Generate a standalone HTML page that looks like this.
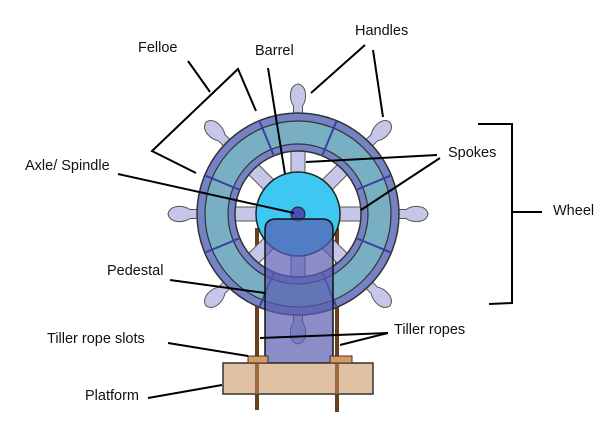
<!DOCTYPE html>
<html><head><meta charset="utf-8"><style>
html,body{margin:0;padding:0;background:#fff}
svg{display:block}
text{font-family:"Liberation Sans",Arial,sans-serif;font-size:14.5px;fill:#111}
</style></head><body>
<svg width="600" height="428" viewBox="0 0 600 428" xmlns="http://www.w3.org/2000/svg">
<defs>
<g id="handle">
  <path d="M -4.5 -98 L -4.5 -108 C -9 -114 -9.5 -128 0 -130 C 9.5 -128 9 -114 4.5 -108 L 4.5 -98 Z" fill="#c6c6e8" stroke="#555" stroke-width="1"/>
  <rect x="-7" y="-70" width="14" height="32" fill="#c6c6e8" stroke="#555" stroke-width="1"/>
</g>
</defs>
<line x1="257" y1="228" x2="257" y2="410" stroke="#6b3f1a" stroke-width="4"/>
<line x1="337" y1="228" x2="337" y2="412" stroke="#6b3f1a" stroke-width="4"/>
<g transform="translate(298,214)">
  <use href="#handle" transform="rotate(0)"/>
  <use href="#handle" transform="rotate(45)"/>
  <use href="#handle" transform="rotate(90)"/>
  <use href="#handle" transform="rotate(135)"/>
  <use href="#handle" transform="rotate(180)"/>
  <use href="#handle" transform="rotate(225)"/>
  <use href="#handle" transform="rotate(270)"/>
  <use href="#handle" transform="rotate(315)"/>
  <path d="M 0 -101 A 101 101 0 1 1 0 101 A 101 101 0 1 1 0 -101 Z M 0 -63 A 63 63 0 1 0 0 63 A 63 63 0 1 0 0 -63 Z" fill="#7582c4" fill-rule="evenodd" stroke="#333" stroke-width="1.5"/>
  <path d="M 0 -93 A 93 93 0 1 1 0 93 A 93 93 0 1 1 0 -93 Z M 0 -70 A 70 70 0 1 0 0 70 A 70 70 0 1 0 0 -70 Z" fill="#78afc2" fill-rule="evenodd" stroke="#333" stroke-width="1.2"/>
  <g stroke="#3a40a0" stroke-width="2">
    <line x1="0" y1="-64" x2="0" y2="-100" transform="rotate(22.5)"/>
    <line x1="0" y1="-64" x2="0" y2="-100" transform="rotate(67.5)"/>
    <line x1="0" y1="-64" x2="0" y2="-100" transform="rotate(112.5)"/>
    <line x1="0" y1="-64" x2="0" y2="-100" transform="rotate(157.5)"/>
    <line x1="0" y1="-64" x2="0" y2="-100" transform="rotate(202.5)"/>
    <line x1="0" y1="-64" x2="0" y2="-100" transform="rotate(247.5)"/>
    <line x1="0" y1="-64" x2="0" y2="-100" transform="rotate(292.5)"/>
    <line x1="0" y1="-64" x2="0" y2="-100" transform="rotate(337.5)"/>
  </g>
  <circle cx="0" cy="0" r="42" fill="#3cc8f2" stroke="#222" stroke-width="1.5"/>
  <circle cx="0" cy="0" r="7" fill="#4a50b0" stroke="#222" stroke-width="1"/>
</g>
<path d="M 265 363 L 265 230 Q 265 219 276 219 L 322 219 Q 333 219 333 230 L 333 363 Z" fill="#5a5cb2" fill-opacity="0.7" stroke="#111" stroke-width="1.5"/>
<rect x="223" y="363" width="150" height="31" fill="#dfc0a2" stroke="#333" stroke-width="1.5"/>
<line x1="257" y1="363" x2="257" y2="394" stroke="#9a6a40" stroke-width="4"/>
<line x1="337" y1="363" x2="337" y2="394" stroke="#9a6a40" stroke-width="4"/>
<rect x="248" y="356" width="20" height="7" fill="#d49a60" stroke="#333" stroke-width="1"/>
<rect x="330" y="356" width="22" height="7" fill="#d49a60" stroke="#333" stroke-width="1"/>
<g stroke="#000" stroke-width="2" fill="none">
  <line x1="188" y1="61" x2="210" y2="92"/>
  <polyline points="256,111 238,69 152,151 196,173"/>
  <line x1="268" y1="68" x2="285" y2="174"/>
  <line x1="118" y1="174" x2="294" y2="213"/>
  <line x1="365" y1="45" x2="311" y2="93"/>
  <line x1="373" y1="50" x2="383" y2="117"/>
  <line x1="437" y1="155" x2="306" y2="162"/>
  <line x1="440" y1="158" x2="361" y2="210"/>
  <polyline points="478,124 512,124 512,303 489,304"/>
  <line x1="512" y1="212" x2="542" y2="212"/>
  <line x1="170" y1="280" x2="265" y2="293"/>
  <line x1="168" y1="343" x2="248" y2="356"/>
  <line x1="388" y1="333" x2="260" y2="338"/>
  <line x1="388" y1="333" x2="340" y2="345"/>
  <line x1="148" y1="398" x2="222" y2="385"/>
</g>
<text x="138" y="52">Felloe</text>
<text x="255" y="55">Barrel</text>
<text x="355" y="35">Handles</text>
<text x="25" y="170">Axle/ Spindle</text>
<text x="448" y="157">Spokes</text>
<text x="553" y="215">Wheel</text>
<text x="107" y="275">Pedestal</text>
<text x="47" y="343">Tiller rope slots</text>
<text x="394" y="334">Tiller ropes</text>
<text x="85" y="400">Platform</text>
</svg>
</body></html>
